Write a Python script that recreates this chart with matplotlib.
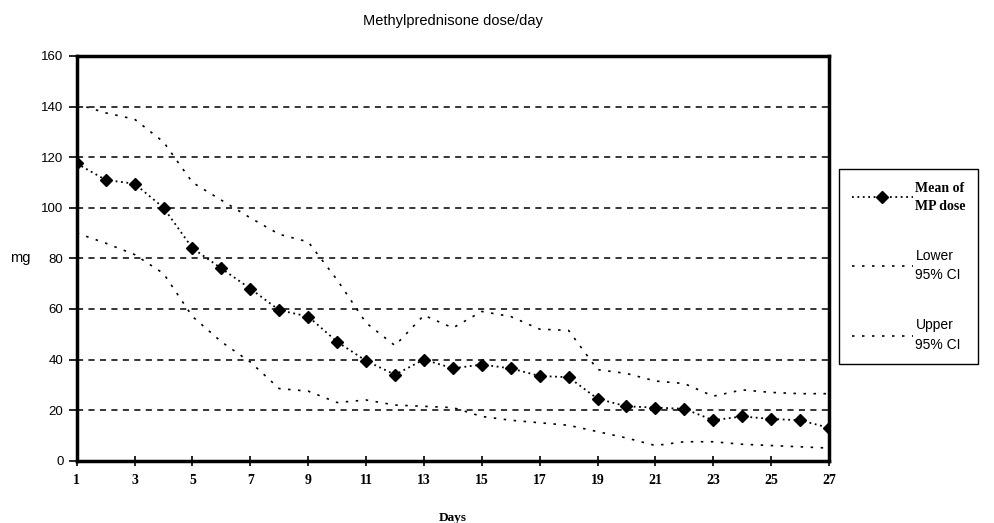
import numpy as np
import matplotlib
matplotlib.use("Agg")
from matplotlib import pyplot as plt

# methylprednisone dose per day, mean and 95% CI bounds (mg)
days = np.arange(1, 28)
mean_dose = [117.5, 111, 109.5, 100, 84, 76, 68, 59.5, 57, 47, 39.5, 34, 40,
             36.5, 38, 36.5, 33.5, 33, 24.5, 21.5, 21, 20.5, 16, 17.5, 16.5, 16, 13]
lower_ci = [90, 86, 81.5, 74, 57, 47, 39, 28.5, 27.5, 23, 24, 22, 21.5,
            21, 17.5, 16, 15, 14, 11.5, 9, 6, 7.5, 7.5, 6.5, 6, 5.5, 5]
upper_ci = [141, 137.5, 135, 126, 110, 103, 96, 89.5, 86.5, 71.5, 54.5, 45.5, 57.5,
            52.5, 59, 57, 52, 51.5, 36, 34.5, 31.5, 30.5, 25.5, 28, 27, 26.5, 26.5]
xticks = list(range(1, 28, 2))
yticks = list(range(0, 161, 20))

plt.rcParams["font.family"] = ["Liberation Sans", "DejaVu Sans"]

fig = plt.figure(figsize=(9.94, 5.23), dpi=100)
ax = fig.add_axes([0.0772, 0.1191, 0.834 - 0.0772, 0.893 - 0.1191])

for y in yticks[1:-1]:
    ax.axhline(y, color="black", lw=1.1, ls=(0, (4, 3.5)), zorder=1)

ax.plot(days, mean_dose, color="black", lw=1.3, ls=(0, (1, 2)),
        marker="D", ms=6.5, label="Mean of\nMP dose", zorder=3)
ax.plot(days, lower_ci, color="black", lw=1.2, ls=(0, (1.5, 4.5)),
        label="Lower\n95% CI", zorder=2)
ax.plot(days, upper_ci, color="black", lw=1.2, ls=(0, (1.5, 4.5)),
        label="Upper\n95% CI", zorder=2)

ax.set_xlim(1, 27)
ax.set_ylim(0, 160)
ax.set_xticks(xticks)
ax.set_yticks(yticks)
ax.set_xticklabels([str(t) for t in xticks], family="Liberation Serif",
                   fontweight="bold", fontsize=10)
ax.set_yticklabels([str(t) for t in yticks], fontsize=9.5)
ax.tick_params(axis="x", direction="inout", length=7, width=1.2, pad=6)
ax.tick_params(axis="y", direction="out", length=5.5, width=1.2, pad=4)
for sp in ax.spines.values():
    sp.set_linewidth(2.5)

ax.set_ylabel("mg", rotation=0, fontsize=10.5, labelpad=15, va="center")
ax.set_xlabel("Days", family="Liberation Serif", fontweight="bold", fontsize=9.5, labelpad=18)
ax.set_title("Methylprednisone dose/day", fontsize=10.5, pad=22)

leg = fig.legend(loc="upper left", bbox_to_anchor=(839 / 994, 1 - 169 / 523),
                 borderaxespad=0, fancybox=False, edgecolor="black",
                 fontsize=10, handlelength=4.4, handletextpad=0.2,
                 labelspacing=2.6, borderpad=0.9, framealpha=1)
leg.get_frame().set_linewidth(1.0)
for t in leg.get_texts():
    t.set_linespacing(1.5)
leg.get_texts()[0].set_fontfamily("Liberation Serif")
leg.get_texts()[0].set_fontweight("bold")

fig.savefig("out.png", dpi=100)
